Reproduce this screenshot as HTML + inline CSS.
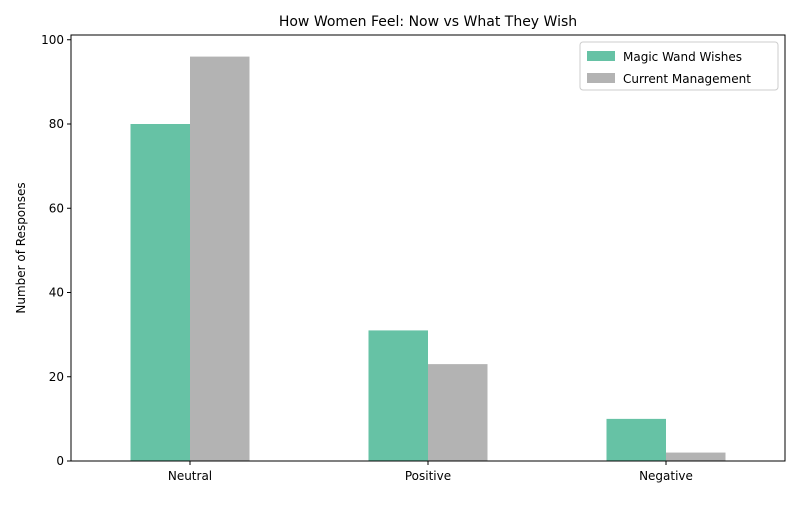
<!DOCTYPE html>
<html><head><meta charset="utf-8"><style>
body{margin:0;background:#fff;}
svg text{font-family:"DejaVu Sans","Liberation Sans",sans-serif;}
</style></head><body>
<svg id="chart" width="800" height="500" xmlns="http://www.w3.org/2000/svg">
<rect width="800" height="500" fill="#fff"/>
<text x="428" y="26" text-anchor="middle" font-size="14">How Women Feel: Now vs What They Wish</text>
<g id="bars"></g>
<g id="axes"></g>
</svg>
<script>
const categories = ["Neutral","Positive","Negative"];
const wandValues = [80,31,10];
const currentValues = [96,23,2];
const yTicks = [0,20,40,60,80,100];
const seriesNames = ["Magic Wand Wishes","Current Management"];

const L=71,R=785,T=35,B=461;
const NS="http://www.w3.org/2000/svg";
const x = i => L + (i+0.5)*(R-L)/categories.length;
const step=(R-L)/categories.length, bw=step*0.25;
const y = v => B - v*4.2125;
function mk(tag,attrs,parent){const e=document.createElementNS(NS,tag);for(const k in attrs)e.setAttribute(k,attrs[k]);parent.appendChild(e);return e;}
const bars=document.getElementById('bars'), axes=document.getElementById('axes');
const series=[wandValues,currentValues], colors=["#66c2a5","#b3b3b3"];
series.forEach((vals,s)=>{vals.forEach((v,i)=>{
  const r=mk('rect',{x:x(i)-bw+s*bw,y:y(v),width:bw,height:B-y(v),fill:colors[s]},bars);
  
  
});});
const frame=mk('rect',{x:L,y:T,width:R-L,height:B-T,fill:'none',stroke:'#000','stroke-width':1},axes);


yTicks.forEach(t=>{
  mk('line',{x1:L-4,x2:L,y1:y(t),y2:y(t),stroke:'#000'},axes);
  const tx=mk('text',{x:L-7,y:y(t)+4,'text-anchor':'end','font-size':12},axes);
  tx.textContent=t;
  
  
});
categories.forEach((c,i)=>{
  mk('line',{x1:x(i),x2:x(i),y1:B,y2:B+4,stroke:'#000'},axes);
  const tx=mk('text',{x:x(i),y:B+19,'text-anchor':'middle','font-size':12},axes);
  tx.textContent=c;
  
  
});
const yt=mk('text',{x:25,y:248,'text-anchor':'middle','font-size':12,transform:'rotate(-90 25 248)'},axes);
yt.textContent="Number of Responses";


const lg=mk('g',{},axes);


mk('rect',{x:580,y:42,width:198,height:48,fill:'#fff',stroke:'#ccc',rx:3},lg);
seriesNames.forEach((n,s)=>{
  const yy=51+s*22;
  mk('rect',{x:587,y:yy,width:28,height:10,fill:colors[s]},lg);
  const tx=mk('text',{x:623,y:yy+10,'font-size':12},lg);
  tx.textContent=n;
  
  
});
</script>
</body></html>
